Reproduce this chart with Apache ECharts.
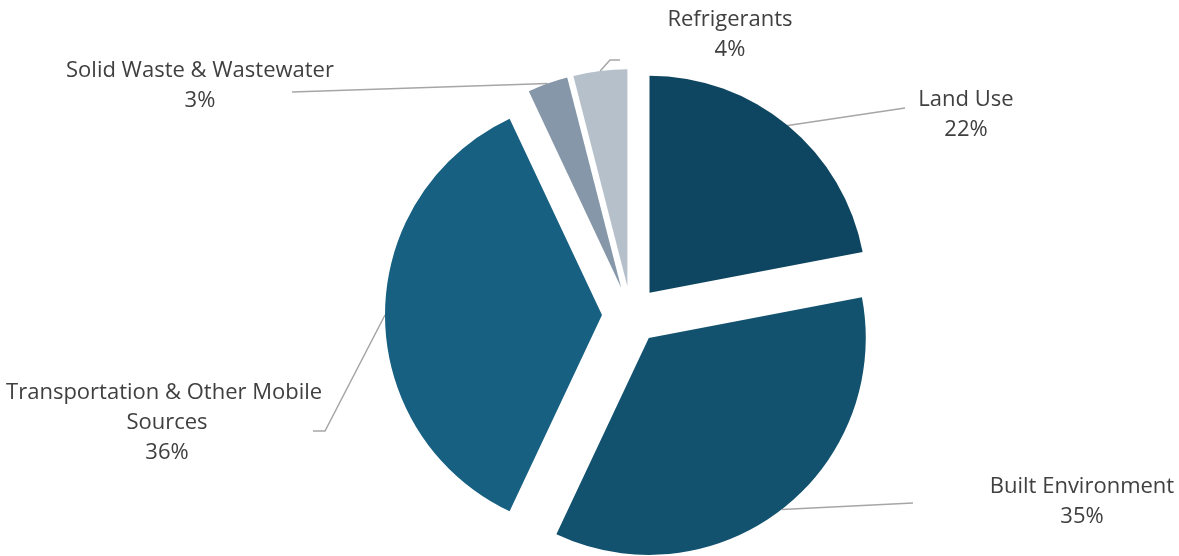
<!DOCTYPE html>
<html>
<head>
<meta charset="utf-8">
<script src="https://cdn.jsdelivr.net/npm/echarts@6/dist/echarts.min.js"></script>
<style>
    html, body {margin: 0; padding: 0; background: #fff;}
    #main {width: 1179px; height: 556px;}
</style>
</head>
<body>
<div id="main"></div>
<script>
// chart data
let categories = ["Land Use", "Built Environment", "Transportation & Other Mobile Sources", "Solid Waste & Wastewater", "Refrigerants"];
let shares = [22, 35, 36, 3, 4];
let sliceColors = ["#0e4661", "#12526f", "#176082", "#8597a8", "#b5c0ca"];

// where each label block sits, and where its leader line bends / ends
let labelCenters = [[966, 115], [1082, 502], [167, 423], [200, 86], [730, 35]];
let lineEnds = [[[905, 108], [905, 108]], [[913, 503], [913, 503]], [[325, 431], [313, 431]], [[292, 92], [292, 92]], [[610, 60], [620, 60]]];

let pieCenter = [631, 315];
let explode = 29;

let chart = echarts.init(document.getElementById('main'), null, {renderer: 'canvas'});

let sliceData = [];
let labelData = [];
for (let i = 0; i < categories.length; i++) {
    sliceData.push({
        name: categories[i], value: shares[i], selected: true, itemStyle: {color: sliceColors[i]}
    });
    labelData.push({name: categories[i], value: shares[i]});
}

let option = {
    animation: false, backgroundColor: '#ffffff', series: [{
        // exploded slices
        type: 'pie', center: pieCenter, radius: 217, startAngle: 90, clockwise: true,
        selectedMode: 'multiple', selectedOffset: explode, silent: true,
        emphasis: {disabled: true}, label: {show: false}, labelLine: {show: false},
        data: sliceData
    }, {
        // invisible twin that only carries the labels
        type: 'pie', center: pieCenter, radius: 217, startAngle: 90, clockwise: true,
        silent: true, emphasis: {disabled: true},
        itemStyle: {color: 'rgba(0,0,0,0)'},
        label: {
            show: true, position: 'outside', fontFamily: 'Open Sans', fontSize: 22, lineHeight: 30,
            color: '#404040', align: 'center', width: 335, overflow: 'break',
            formatter: function (p) {
                return p.name + '\n' + Math.round(p.percent) + '%';
            }
        },
        labelLine: {show: true, lineStyle: {color: '#a6a6a6', width: 1.5}},
        labelLayout: function (params) {
            let i = params.dataIndex;
            let c = labelCenters[i];
            let p0 = params.labelLinePoints[0];
            let dx = p0[0] - pieCenter[0], dy = p0[1] - pieCenter[1];
            let len = Math.sqrt(dx * dx + dy * dy) || 1;
            let start = [p0[0] + explode * dx / len, p0[1] + explode * dy / len];
            return {
                x: c[0], y: c[1], align: 'center', verticalAlign: 'middle',
                labelLinePoints: [start, lineEnds[i][0], lineEnds[i][1]]
            };
        },
        data: labelData
    }]
};

chart.setOption(option);
</script>
</body>
</html>
